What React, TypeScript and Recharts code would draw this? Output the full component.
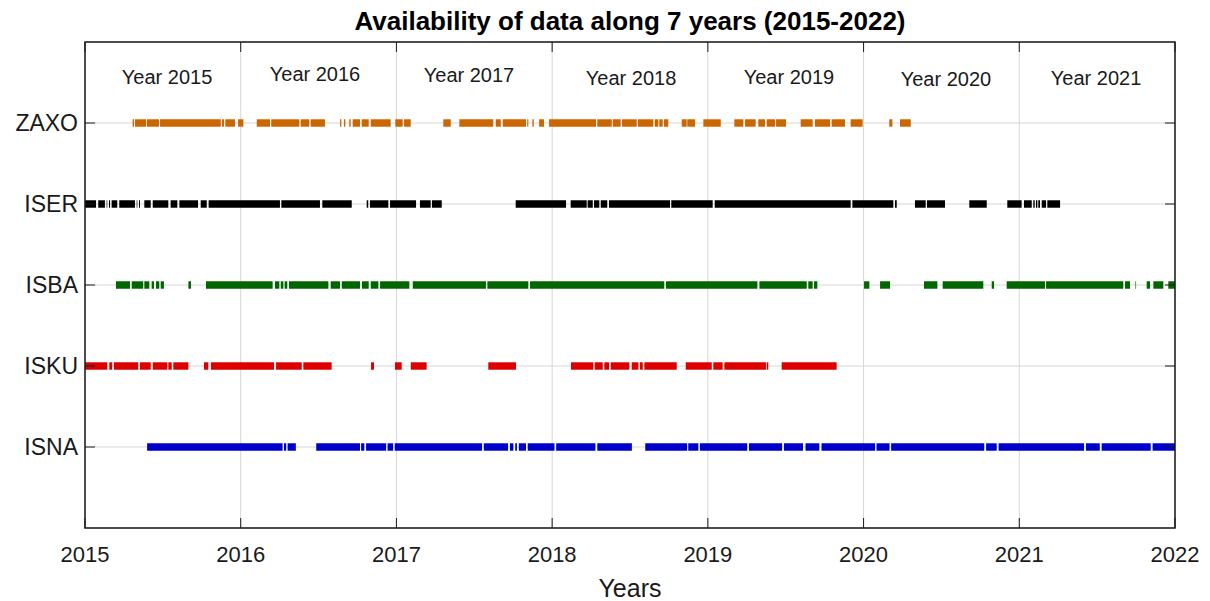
import { ComposedChart, XAxis, YAxis, CartesianGrid, ReferenceArea, ReferenceLine, Scatter } from 'recharts'

// x axis: decimal years
const years = [2015, 2016, 2017, 2018, 2019, 2020, 2021, 2022]

// stations bottom -> top (y = 1..5)
const stations = ['ISNA', 'ISKU', 'ISBA', 'ISER', 'ZAXO']
const stationTicks = [1, 2, 3, 4, 5]
const stationColors = ['#0000cc', '#dd0000', '#006600', '#000000', '#cc6600']

// periods with data, [start, end] in decimal years
const isna: [number, number][] = [
  [2015.399, 2016.269], [2016.278, 2016.292], [2016.301, 2016.354], [2016.485, 2016.766],
  [2016.773, 2016.794], [2016.805, 2016.934], [2016.943, 2016.979], [2016.989, 2017.55],
  [2017.561, 2017.717], [2017.729, 2017.751], [2017.763, 2017.774], [2017.786, 2017.832],
  [2017.843, 2018.015], [2018.026, 2018.278], [2018.29, 2018.512], [2018.598, 2018.867],
  [2018.874, 2018.939], [2018.949, 2019.253], [2019.264, 2019.477], [2019.489, 2019.611],
  [2019.627, 2019.716], [2019.73, 2020.074], [2020.083, 2020.167], [2020.177, 2020.775],
  [2020.787, 2020.855], [2020.867, 2021.416], [2021.428, 2021.517], [2021.529, 2021.844],
  [2021.856, 2022.0],
]

const isku: [number, number][] = [
  [2015.0, 2015.143], [2015.156, 2015.175], [2015.186, 2015.342], [2015.353, 2015.422],
  [2015.435, 2015.529], [2015.535, 2015.557], [2015.567, 2015.664], [2015.764, 2015.792],
  [2015.809, 2016.214], [2016.227, 2016.392], [2016.402, 2016.584], [2016.837, 2016.856],
  [2016.991, 2017.034], [2017.092, 2017.194], [2017.59, 2017.768], [2018.121, 2018.264],
  [2018.273, 2018.325], [2018.335, 2018.365], [2018.376, 2018.496], [2018.511, 2018.554],
  [2018.564, 2018.582], [2018.592, 2018.8], [2018.858, 2019.025], [2019.035, 2019.095],
  [2019.106, 2019.373], [2019.378, 2019.388], [2019.474, 2019.827],
]

const isba: [number, number][] = [
  [2015.199, 2015.289], [2015.3, 2015.374], [2015.381, 2015.413], [2015.428, 2015.443],
  [2015.456, 2015.477], [2015.486, 2015.507], [2015.664, 2015.681], [2015.777, 2016.205],
  [2016.22, 2016.248], [2016.257, 2016.274], [2016.282, 2016.299], [2016.31, 2016.563],
  [2016.578, 2016.638], [2016.649, 2016.766], [2016.779, 2016.822], [2016.835, 2016.884],
  [2016.895, 2017.083], [2017.105, 2017.575], [2017.584, 2017.847], [2017.858, 2018.72],
  [2018.731, 2019.318], [2019.331, 2019.635], [2019.645, 2019.673], [2019.682, 2019.703],
  [2020.003, 2020.037], [2020.106, 2020.17], [2020.388, 2020.474], [2020.508, 2020.769],
  [2020.823, 2020.838], [2020.919, 2021.165], [2021.172, 2021.668], [2021.679, 2021.711],
  [2021.746, 2021.75], [2021.818, 2021.84], [2021.861, 2021.925], [2021.957, 2022.0],
]

const iser: [number, number][] = [
  [2015.0, 2015.071], [2015.085, 2015.128], [2015.139, 2015.143], [2015.154, 2015.161],
  [2015.171, 2015.207], [2015.22, 2015.321], [2015.332, 2015.336], [2015.347, 2015.353],
  [2015.381, 2015.422], [2015.435, 2015.535], [2015.55, 2015.593], [2015.606, 2015.726],
  [2015.743, 2015.782], [2015.794, 2016.252], [2016.261, 2016.509], [2016.524, 2016.713],
  [2016.809, 2016.819], [2016.83, 2016.948], [2016.959, 2017.126], [2017.151, 2017.22],
  [2017.228, 2017.291], [2017.766, 2018.089], [2018.119, 2018.222], [2018.228, 2018.261],
  [2018.269, 2018.303], [2018.312, 2018.354], [2018.365, 2018.757], [2018.765, 2019.031],
  [2019.044, 2019.917], [2019.928, 2020.191], [2020.202, 2020.213], [2020.33, 2020.399],
  [2020.407, 2020.523], [2020.679, 2020.791], [2020.923, 2021.015], [2021.03, 2021.08],
  [2021.09, 2021.099], [2021.107, 2021.116], [2021.122, 2021.133], [2021.144, 2021.172],
  [2021.18, 2021.262],
]

const zaxo: [number, number][] = [
  [2015.306, 2015.315], [2015.321, 2015.392], [2015.397, 2015.475], [2015.482, 2015.872],
  [2015.88, 2015.893], [2015.901, 2015.963], [2015.983, 2016.017], [2016.103, 2016.188],
  [2016.196, 2016.376], [2016.385, 2016.44], [2016.449, 2016.541], [2016.638, 2016.646],
  [2016.663, 2016.672], [2016.697, 2016.706], [2016.719, 2016.766], [2016.777, 2016.822],
  [2016.835, 2016.963], [2016.993, 2017.04], [2017.049, 2017.092], [2017.301, 2017.349],
  [2017.404, 2017.622], [2017.638, 2017.67], [2017.683, 2017.832], [2017.84, 2017.847],
  [2017.873, 2017.882], [2017.916, 2017.948], [2017.98, 2018.282], [2018.29, 2018.383],
  [2018.389, 2018.44], [2018.449, 2018.543], [2018.551, 2018.65], [2018.659, 2018.682],
  [2018.688, 2018.71], [2018.718, 2018.746], [2018.832, 2018.864], [2018.868, 2018.918],
  [2018.971, 2019.083], [2019.17, 2019.228], [2019.239, 2019.307], [2019.324, 2019.367],
  [2019.378, 2019.431], [2019.438, 2019.502], [2019.596, 2019.673], [2019.688, 2019.785],
  [2019.795, 2019.881], [2019.917, 2019.994], [2020.165, 2020.185], [2020.234, 2020.303],
]

const periods = [isna, isku, isba, iser, zaxo]

// text labels inside the plot
const yearLabels = ['Year 2015', 'Year 2016', 'Year 2017', 'Year 2018', 'Year 2019', 'Year 2020', 'Year 2021']
const yearLabelX = [2015.527, 2016.477, 2017.466, 2018.507, 2019.521, 2020.529, 2021.493]
const yearLabelY = [5.574, 5.611, 5.599, 5.562, 5.574, 5.549, 5.562]

const labelData = yearLabels.map((label, i) => ({ x: yearLabelX[i], y: yearLabelY[i], label }))

const X0 = 2015
const X1 = 2022
const Y0 = 0
const Y1 = 6
const FONT = '"Liberation Sans", Arial, Helvetica, sans-serif'
const HALF = 0.046
// inward tick length (~10px) in data units
const TICK_Y = 0.123
const TICK_X = 0.064
const AXIS = '#1a1a1a'

export default function App() {
  return (
    <div style={{ position: 'absolute', left: 0, top: 0, width: 1210, height: 601, background: '#fff', fontFamily: FONT }}>
      <div
        style={{
          position: 'absolute', left: 85, width: 1090, top: 8, textAlign: 'center',
          fontSize: 26, lineHeight: '26px', fontWeight: 'bold', color: '#000',
        }}
      >
        Availability of data along 7 years (2015-2022)
      </div>
      <div
        style={{
          position: 'absolute', left: 85, width: 1090, top: 576, textAlign: 'center',
          fontSize: 25, lineHeight: '25px', color: AXIS,
        }}
      >
        Years
      </div>
      <ComposedChart width={1210} height={601} margin={{ top: 42, right: 35, bottom: 13, left: 5 }}>
        <CartesianGrid stroke="#d6d6d6" strokeWidth={1} />
        <XAxis
          dataKey="x"
          type="number"
          domain={[X0, X1]}
          ticks={years}
          allowDataOverflow
          height={60}
          tickSize={0}
          tickMargin={18}
          axisLine={false}
          tickLine={false}
          tick={{ fill: AXIS, fontSize: 22, fontFamily: FONT }}
        />
        <YAxis
          type="number"
          domain={[Y0, Y1]}
          ticks={stationTicks}
          allowDataOverflow
          width={80}
          tickSize={0}
          tickMargin={7}
          tickFormatter={(v) => stations[v - 1] ?? ''}
          axisLine={false}
          tickLine={false}
          tick={{ fill: AXIS, fontSize: 23, fontFamily: FONT }}
        />
        {periods.map((list, s) =>
          list.map(([a, b], i) => (
            <ReferenceArea
              key={`${s}-${i}`}
              x1={a}
              x2={b}
              y1={s + 1 - HALF}
              y2={s + 1 + HALF}
              fill={stationColors[s]}
              fillOpacity={1}
              stroke="none"
              ifOverflow="hidden"
            />
          )),
        )}
        {/* box */}
        <ReferenceArea
          x1={X0}
          x2={X1}
          y1={Y0}
          y2={Y1}
          fill="none"
          stroke={AXIS}
          strokeWidth={1.5}
          ifOverflow="visible"
        />
        {/* inward tick marks */}
        {years.map((yr) => (
          <ReferenceLine key={`b${yr}`} segment={[{ x: yr, y: Y0 }, { x: yr, y: Y0 + TICK_Y }]} stroke={AXIS} />
        ))}
        {years.map((yr) => (
          <ReferenceLine key={`t${yr}`} segment={[{ x: yr, y: Y1 }, { x: yr, y: Y1 - TICK_Y }]} stroke={AXIS} />
        ))}
        {stationTicks.map((v) => (
          <ReferenceLine key={`l${v}`} segment={[{ x: X0, y: v }, { x: X0 + TICK_X, y: v }]} stroke={AXIS} />
        ))}
        {stationTicks.map((v) => (
          <ReferenceLine key={`r${v}`} segment={[{ x: X1, y: v }, { x: X1 - TICK_X, y: v }]} stroke={AXIS} />
        ))}
        <Scatter
          data={labelData}
          dataKey="y"
          isAnimationActive={false}
          shape={(p: any) => (
            <text
              x={p.cx}
              y={p.cy}
              dy="0.355em"
              textAnchor="middle"
              fontSize={20}
              fontFamily={FONT}
              fill={AXIS}
            >
              {p.payload.label}
            </text>
          )}
        />
      </ComposedChart>
    </div>
  )
}
